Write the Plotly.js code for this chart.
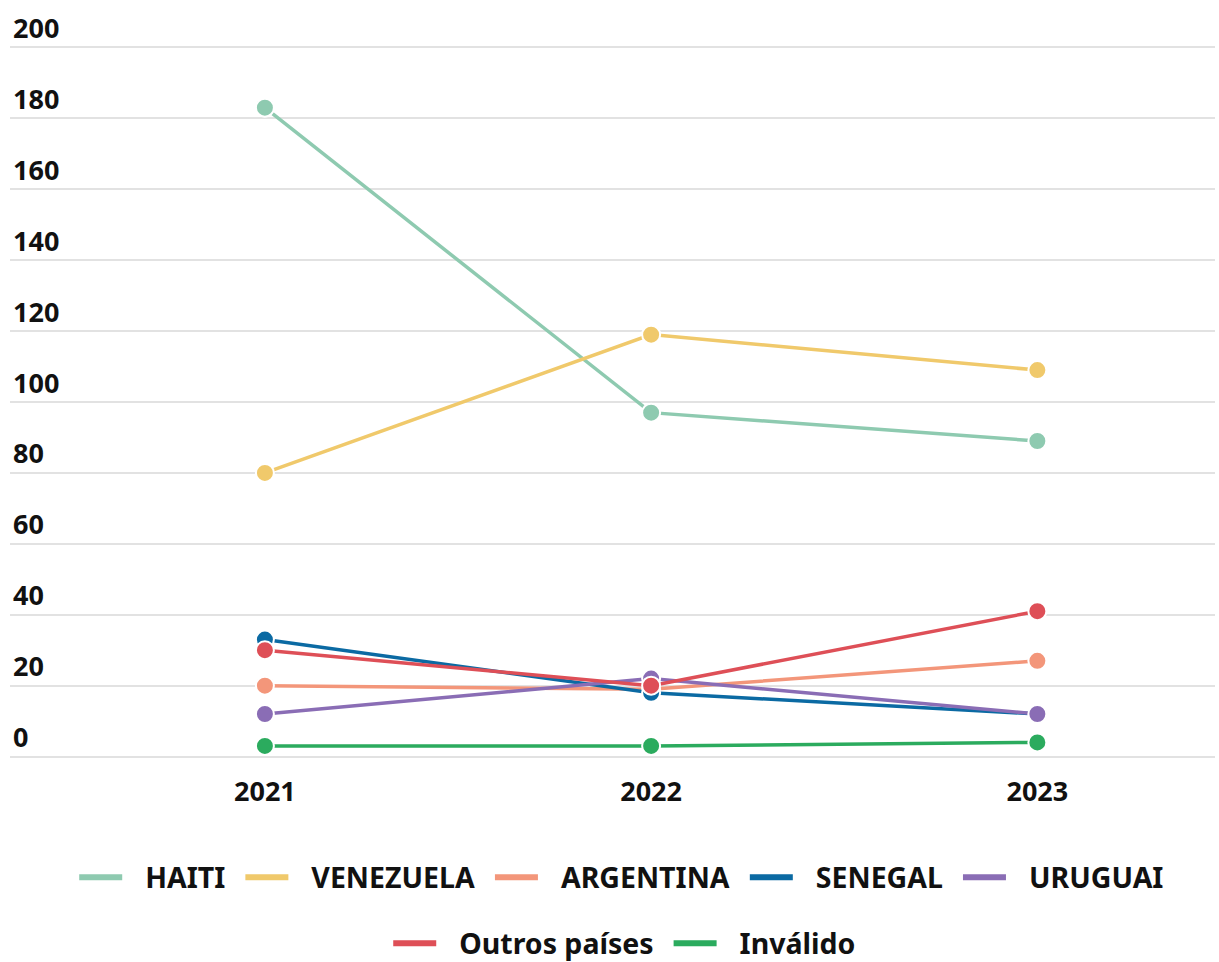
<!DOCTYPE html>
<html>
<head>
<meta charset="utf-8">
<script src="https://cdn.plot.ly/plotly-3.0.1.min.js"></script>
<style>html,body{margin:0;padding:0;background:#fff;}#chart{width:1219px;height:962px;}</style>
</head>
<body>
<div id="chart"></div>
<script>
const years = ['2021', '2022', '2023'];
const seriesNames = ['HAITI', 'VENEZUELA', 'ARGENTINA', 'SENEGAL', 'URUGUAI', 'Outros países', 'Inválido'];
const haiti = [183, 97, 89];
const venezuela = [80, 119, 109];
const argentina = [20, 19, 27];
const senegal = [33, 18, 12];
const uruguai = [12, 22, 12];
const outros = [30, 20, 41];
const invalido = [3, 3, 4];
const yTicks = [0, 20, 40, 60, 80, 100, 120, 140, 160, 180, 200];

const values = [haiti, venezuela, argentina, senegal, uruguai, outros, invalido];
const colors = ['#8ecab0', '#f0c96b', '#f3967a', '#0b6aa3', '#8a6db5', '#de4f57', '#2bab5e'];
const legendIds = ['legend', 'legend', 'legend', 'legend', 'legend', 'legend2', 'legend2'];

const traces = seriesNames.map((name, i) => ({
  type: 'scatter',
  mode: 'lines+markers',
  name: name,
  x: years,
  y: values[i],
  showlegend: false,
  legendgroup: name,
  line: {color: colors[i], width: 3.5},
  marker: {color: colors[i], size: 18, line: {color: '#ffffff', width: 2}},
  cliponaxis: false
}));

// legend-only entries: a 43px swatch with gaps on both sides (via dash pattern)
const legendTraces = seriesNames.map((name, i) => ({
  type: 'scatter',
  mode: 'lines',
  name: name,
  x: [null],
  y: [null],
  legend: legendIds[i],
  legendgroup: name,
  showlegend: true,
  line: {color: colors[i], width: 6, dash: '0px,10px,43px,200px'}
}));

const font = {family: '"Noto Sans", "Open Sans", sans-serif', size: 27, color: '#111111', weight: 700};
const legendFont = {family: '"Noto Sans", "Open Sans", sans-serif', size: 28.5, color: '#111111', weight: 700};

const layout = {
  width: 1219,
  height: 962,
  margin: {l: 10, r: 4, t: 46, b: 204, autoexpand: false},
  paper_bgcolor: '#ffffff',
  plot_bgcolor: '#ffffff',
  font: font,
  showlegend: true,
  xaxis: {
    type: 'category',
    range: [-0.66, 2.46],
    showgrid: false,
    zeroline: false,
    showline: false,
    ticks: '',
    tickfont: font,
    ticklabelstandoff: 15,
    fixedrange: true
  },
  yaxis: {
    range: [-0.4, 200.4],
    tickvals: yTicks,
    ticktext: yTicks.map(String),
    showgrid: true,
    gridcolor: '#e2e2e2',
    gridwidth: 2,
    zeroline: false,
    showline: false,
    ticks: '',
    ticklabelposition: 'inside top',
    ticklabeloverflow: 'allow',
    tickfont: font,
    fixedrange: true
  },
  legend: {
    orientation: 'h',
    x: 0.5035, xanchor: 'center',
    y: -0.168, yanchor: 'middle',
    font: legendFont,
    itemwidth: 71,
    traceorder: 'normal',
    bgcolor: 'rgba(0,0,0,0)'
  },
  legend2: {
    orientation: 'h',
    x: 0.506, xanchor: 'center',
    y: -0.261, yanchor: 'middle',
    font: legendFont,
    itemwidth: 71,
    traceorder: 'normal',
    bgcolor: 'rgba(0,0,0,0)'
  }
};

Plotly.newPlot('chart', traces.concat(legendTraces), layout, {displayModeBar: false, staticPlot: true});
</script>
</body>
</html>
